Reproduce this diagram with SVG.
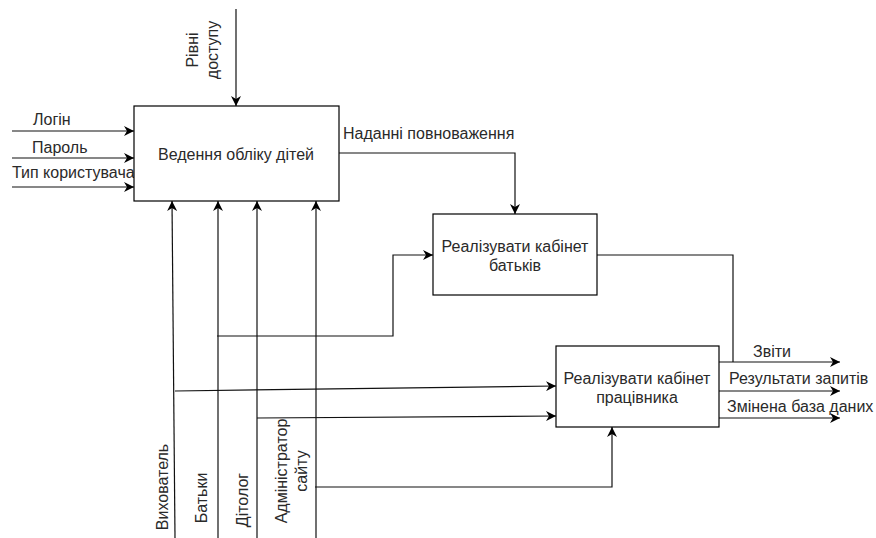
<svg xmlns="http://www.w3.org/2000/svg" width="876" height="538" viewBox="0 0 876 538">
<style>
.box{fill:#fff;stroke:#000;stroke-width:1.2}
.ln{fill:none;stroke:#111;stroke-width:1.2}
text{font-family:"Liberation Sans",Arial,sans-serif;font-size:16px;fill:#2a2a2a}
.c{text-anchor:middle}
</style>
<defs>
<marker id="ar" viewBox="0 0 10 10" refX="10" refY="5" markerWidth="10" markerHeight="10" markerUnits="userSpaceOnUse" orient="auto">
<path d="M0,0 L10,5 L0,10 L3,5 z" fill="#000"/>
</marker>
</defs>
<rect width="876" height="538" fill="#fff"/>
<g id="connectors">
<path class="ln" d="M236,9 V106" marker-end="url(#ar)"/>
<path class="ln" d="M12,131 H134" marker-end="url(#ar)"/>
<path class="ln" d="M12,158 H134" marker-end="url(#ar)"/>
<path class="ln" d="M12,187 H134" marker-end="url(#ar)"/>
<path class="ln" d="M339,153 H515 V214" marker-end="url(#ar)"/>
<path class="ln" d="M175,538 L172,201" marker-end="url(#ar)"/>
<path class="ln" d="M218,538 V201" marker-end="url(#ar)"/>
<path class="ln" d="M257,538 V201" marker-end="url(#ar)"/>
<path class="ln" d="M316,538 V201" marker-end="url(#ar)"/>
<path class="ln" d="M217,336 H393 V255 H433" marker-end="url(#ar)"/>
<path class="ln" d="M175,391 L556,386" marker-end="url(#ar)"/>
<path class="ln" d="M257,418 L556,416" marker-end="url(#ar)"/>
<path class="ln" d="M315,487 H612 V427" marker-end="url(#ar)"/>
<path class="ln" d="M597,255 H733 V362"/>
<path class="ln" d="M719,362 H840" marker-end="url(#ar)"/>
<path class="ln" d="M719,391 H840" marker-end="url(#ar)"/>
<path class="ln" d="M719,418 H840" marker-end="url(#ar)"/>
</g>
<g id="labels">
<text transform="translate(203,50) rotate(-90)" class="c"><tspan x="0" y="-5">Рівні</tspan><tspan x="0" y="15">доступу</tspan></text>
<text x="33" y="125">Логін</text>
<text x="32" y="153">Пароль</text>
<text x="12" y="178">Тип користувача</text>
<text x="343" y="139">Наданні повноваження</text>
<text x="753" y="357">Звіти</text>
<text x="729" y="384">Результати запитів</text>
<text x="727" y="412">Змінена база даних</text>
<text transform="translate(163,487) rotate(-90)" class="c" y="5">Вихователь</text>
<text transform="translate(202,498) rotate(-90)" class="c" y="5">Батьки</text>
<text transform="translate(243,500) rotate(-90)" class="c" y="5">Дітолог</text>
<text transform="translate(292,471) rotate(-90)" class="c"><tspan x="0" y="-5">Адміністратор</tspan><tspan x="0" y="15">сайту</tspan></text>
</g>
<g id="node1">
<rect class="box" x="134" y="106" width="205" height="95"/>
<text x="236" y="160" class="c">Ведення обліку дітей</text>
</g>
<g id="node2">
<rect class="box" x="433" y="214" width="164" height="81"/>
<text x="515" y="252" class="c">Реалізувати кабінет</text>
<text x="515" y="271" class="c">батьків</text>
</g>
<g id="node3">
<rect class="box" x="556" y="346" width="163" height="81"/>
<text x="637" y="384" class="c">Реалізувати кабінет</text>
<text x="637" y="403" class="c">працівника</text>
</g>
</svg>
